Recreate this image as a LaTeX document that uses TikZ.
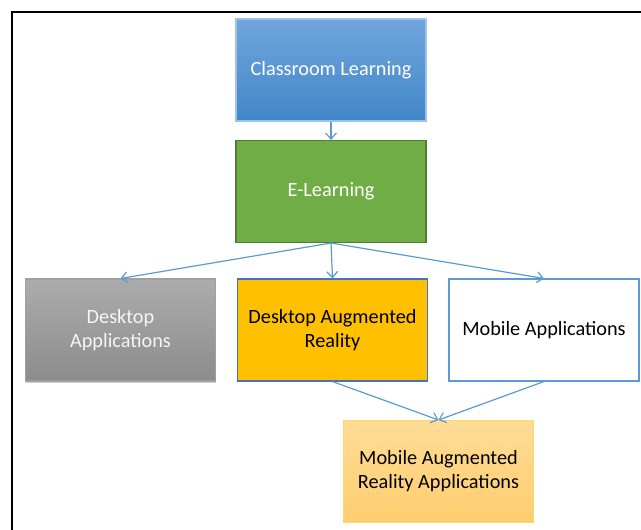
\documentclass[tikz,border=0pt]{standalone}
\usepackage{fontspec}
\setmainfont{Carlito}
\usetikzlibrary{arrows.meta,shadows,fadings}
\definecolor{arrowc}{HTML}{5B9BD5}
\tikzset{
  box/.style={rectangle, minimum width=142.5pt, minimum height=76.5pt, align=center, inner sep=2pt, font=\fontsize{15.2}{18}\selectfont, line width=0.8pt},
  conn/.style={draw=arrowc, line width=0.9pt, -{Straight Barb[length=4.5pt,width=8pt]}},
}
\begin{document}
\begin{tikzpicture}[x=0.75pt,y=-0.75pt]
\useasboundingbox (0,0) rectangle (641,529);
\fill[white] (0,0) rectangle (641,529);
\draw[black, line width=1.8pt] (12,535) -- (12,12) -- (650,12);
\node[box, top color={rgb,255:red,112;green,166;blue,220}, bottom color={rgb,255:red,66;green,134;blue,200}, draw={rgb,255:red,157;green,195;blue,230}, text=white] (cl) at (331,70) {Classroom Learning};
\node[box, fill={rgb,255:red,112;green,173;blue,71}, draw={rgb,255:red,80;green,126;blue,50}, text=white] (el) at (331,191.5) {E-Learning};
\node[box, top color={rgb,255:red,172;green,172;blue,172}, bottom color={rgb,255:red,140;green,140;blue,140}, draw={rgb,255:red,160;green,160;blue,160}, text={rgb,255:red,245;green,245;blue,245}, drop shadow={opacity=0.35, shadow xshift=0.6pt, shadow yshift=-1.5pt}] (da) at (120.5,330) {Desktop\\Applications};
\node[box, fill={rgb,255:red,255;green,192;blue,0}, draw={rgb,255:red,68;green,114;blue,196}, text=black] (dar) at (332.5,330) {Desktop Augmented\\Reality};
\node[box, fill=white, draw=arrowc, text=black] (ma) at (544,330) {Mobile Applications};
\node[box, top color={rgb,255:red,255;green,220;blue,150}, bottom color={rgb,255:red,255;green,205;blue,110}, draw={rgb,255:red,255;green,217;blue,102}, text=black] (mar) at (438.5,471.5) {Mobile Augmented\\Reality Applications};
\draw[conn] (cl.south) -- (el.north);
\draw[conn] (el.south) -- (da.north);
\draw[conn] (el.south) -- (dar.north);
\draw[conn] (el.south) -- (ma.north);
\draw[conn] (dar.south) -- (mar.north);
\draw[conn] (ma.south) -- (mar.north);
\end{tikzpicture}
\end{document}
